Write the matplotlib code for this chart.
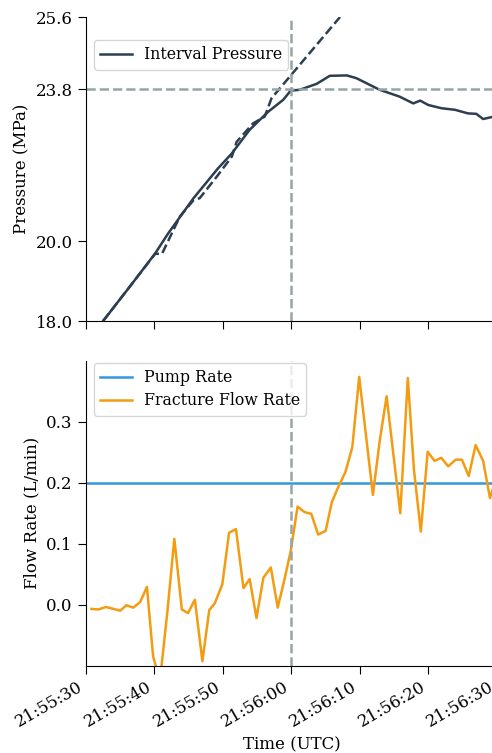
import numpy as np
import pandas as pd
import matplotlib
matplotlib.use("Agg")
import matplotlib.pyplot as plt
import matplotlib.dates as mdates

# seconds after 21:55:30
p_sec = [2.5, 6.4, 10.1, 12.0, 15.7, 19.3, 21.3, 23.9, 26.6, 28.8, 29.9, 31.2, 33.7,
         35.6, 38.1, 39.5, 42.9, 45.8, 47.8, 48.8, 50.0, 51.9, 53.9, 55.8, 57.0, 58.0, 59.3]
pressure = [18.0, 18.86, 19.69, 20.19, 21.07, 21.82, 22.19, 22.78, 23.23, 23.53, 23.76, 23.78, 23.93,
            24.13, 24.14, 24.07, 23.78, 23.61, 23.44, 23.51, 23.40, 23.32, 23.28, 23.19, 23.18, 23.05, 23.10]

fit_sec = [2.5, 10.1, 11.1, 13.7, 15.7, 16.6, 19.1, 21.3, 22.0, 24.4, 26.1, 27.1, 37.1]
fit_p = [18.0, 19.68, 19.68, 20.61, 21.02, 21.07, 21.61, 22.11, 22.48, 22.94, 23.11, 23.57, 25.6]

f_sec = [0.8, 1.8, 2.9, 4.0, 5.0, 5.9, 6.9, 7.9, 8.9, 9.8, 10.8, 11.9, 12.9, 14.0, 14.9, 15.9,
         17.0, 18.0, 18.8, 19.9, 20.9, 21.9, 23.0, 23.9, 24.9, 25.9, 27.0, 28.0, 29.0, 29.9,
         30.9, 31.9, 32.9, 33.9, 35.0, 35.9, 36.8, 37.9, 38.9, 39.9, 40.9, 41.9, 42.9, 43.9,
         44.9, 45.9, 47.0, 47.9, 48.9, 49.9, 50.9, 51.9, 52.9, 54.0, 54.9, 55.9, 56.9, 58.0,
         59.0, 60.0]
flow = [-0.007, -0.008, -0.004, -0.007, -0.010, -0.001, -0.005, 0.004, 0.029, -0.085, -0.125,
        -0.010, 0.108, -0.008, -0.014, 0.008, -0.093, -0.009, 0.002, 0.033, 0.118, 0.124,
        0.027, 0.042, -0.022, 0.044, 0.061, -0.005, 0.042, 0.088, 0.161, 0.152, 0.149, 0.115,
        0.121, 0.168, 0.192, 0.218, 0.259, 0.374, 0.277, 0.180, 0.269, 0.342, 0.246, 0.150,
        0.372, 0.221, 0.120, 0.251, 0.236, 0.241, 0.227, 0.238, 0.238, 0.211, 0.262, 0.236,
        0.175, 0.21]
pump_rate = 0.2
p_break = 23.8

t0 = pd.Timestamp("2021-01-01 21:55:30")
def to_time(s):
    return t0 + pd.to_timedelta(np.array(s), unit="s")

t_break = t0 + pd.Timedelta(seconds=30)

plt.rcParams["font.family"] = "DejaVu Serif"
plt.rcParams["font.size"] = 12
plt.rcParams["legend.fontsize"] = 11.3

fig = plt.figure(figsize=(4.92, 7.53), dpi=100)
ax1 = fig.add_axes([0.1748, 0.5737, 0.835, 0.4037])
ax2 = fig.add_axes([0.1748, 0.1162, 0.835, 0.4044], sharex=ax1)

navy = "#2c3e50"
grey = "#95a5a6"

ax1.plot(to_time(p_sec), pressure, color=navy, lw=1.8, label="Interval Pressure")
ax1.plot(to_time(fit_sec), fit_p, color=navy, lw=1.8, ls="--")
ax1.axhline(p_break, color=grey, lw=1.8, ls="--")
ax1.axvline(t_break, color=grey, lw=1.8, ls="--")
ax1.set_ylim(18.0, 25.6)
ax1.set_yticks([18.0, 20.0, 23.8, 25.6])
ax1.set_ylabel("Pressure (MPa)")
ax1.legend(loc="upper left", bbox_to_anchor=(0.0, 0.95), fancybox=True, framealpha=0.8)
plt.setp(ax1.get_xticklabels(), visible=False)

ax2.axhline(pump_rate, color="#3498db", lw=1.8, label="Pump Rate")
ax2.plot(to_time(f_sec), flow, color="#f39c12", lw=1.8, label="Fracture Flow Rate")
ax2.axvline(t_break, color=grey, lw=1.8, ls="--")
ax2.set_ylim(-0.1, 0.4)
ax2.set_yticks([0.0, 0.1, 0.2, 0.3])
ax2.set_ylabel("Flow Rate (L/min)")
ax2.set_xlabel("Time (UTC)")
ax2.legend(loc="upper left", bbox_to_anchor=(0.0, 1.02), fancybox=True, framealpha=0.8,
           labelspacing=0.4)

ax2.set_xlim(t0, t0 + pd.Timedelta(seconds=60))
ax2.xaxis.set_major_locator(mdates.SecondLocator(bysecond=[0, 10, 20, 30, 40, 50]))
ax2.xaxis.set_major_formatter(mdates.DateFormatter("%H:%M:%S"))
for lab in ax2.get_xticklabels():
    lab.set_rotation(30)
    lab.set_ha("right")

for ax in (ax1, ax2):
    ax.spines["top"].set_visible(False)
    ax.spines["right"].set_visible(False)
    ax.tick_params(direction="out", length=6)

fig.savefig("out.png", dpi=100)
